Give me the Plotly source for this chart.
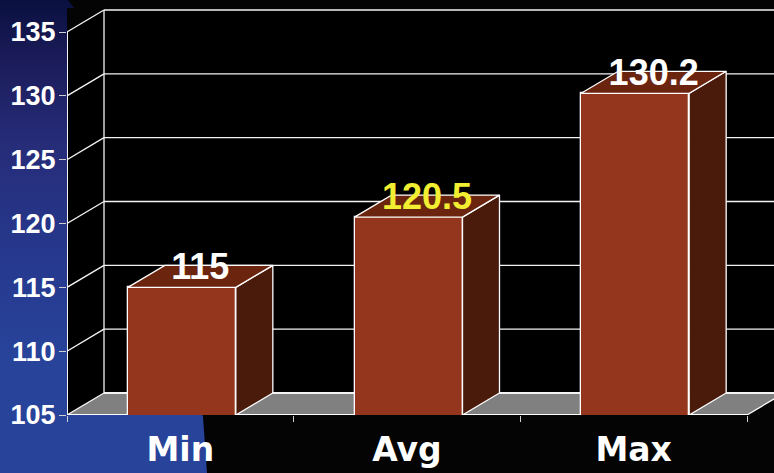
import plotly.graph_objects as go

categories = ["Min", "Avg", "Max"]
values = [115, 120.5, 130.2]
y_ticks = [105, 110, 115, 120, 125, 130, 135]
label_colors = ["#ffffff", "#f2ee32", "#ffffff"]

W, H = 774, 473
PX_X0, PX_X1 = 67, 747     # y axis and last x tick
PX_Y0, PX_Y1 = 415, 32     # value 105 and value 135
TOP_PX = 8
UX = (PX_X1 - PX_X0) / 3
UY = (PX_Y0 - PX_Y1) / (y_ticks[-1] - y_ticks[0])
DX = 37 / UX               # chart depth in axis units
DY = 22 / UY
BAR_W = 108 / UX
SHIFT = 1.5 / UX           # bars sit slightly right of the category centre
DROP = 5 / UY              # value labels sit slightly below the back edge
X_MIN, X_MAX = -0.5, -0.5 + (W - PX_X0) / UX
Y_MIN, Y_MAX = y_ticks[0], y_ticks[0] + (PX_Y0 - TOP_PX) / UY

FRONT, SIDE, TOP = "#94351d", "#4a1b0b", "#6b250f"
LINE = "#f4f4f4"
EDGE = 1.3

# Decorative backdrop outline, page pixels
bg_x = [0, 68, 86, 203, 207, 0, 0]
bg_y = [0, 0, 24, 417, 473, 473, 0]

fig = go.Figure()

fig.add_trace(go.Scatter(
    x=bg_x, y=bg_y, xaxis="x", yaxis="y", mode="lines", fill="toself",
    line=dict(width=0), hoverinfo="skip", showlegend=False,
    fillgradient=dict(type="vertical", start=0, stop=473, colorscale=[
        [0, "#0a1040"], [0.12, "#1a1b58"], [0.3, "#262c78"],
        [0.55, "#26398e"], [0.75, "#27439a"], [1, "#27439a"]]),
))

fig.add_trace(go.Bar(
    x=[i + SHIFT for i in range(len(values))], y=values, width=BAR_W, xaxis="x2", yaxis="y2",
    marker=dict(color=FRONT, line=dict(color="#ffffff", width=EDGE)),
    showlegend=False, hovertemplate="%{y}<extra></extra>",
))

for i, v in enumerate(values):
    xl, xr = i + SHIFT - BAR_W / 2, i + SHIFT + BAR_W / 2
    fig.add_trace(go.Scatter(
        x=[xr, xr + DX, xr + DX, xr, xr],
        y=[Y_MIN, Y_MIN + DY, v + DY, v, Y_MIN], xaxis="x2", yaxis="y2",
        mode="lines", fill="toself", fillcolor=SIDE, hoverinfo="skip",
        line=dict(color="#ffffff", width=EDGE), showlegend=False))
    fig.add_trace(go.Scatter(
        x=[xl, xl + DX, xr + DX, xr, xl],
        y=[v, v + DY, v + DY, v, v], xaxis="x2", yaxis="y2",
        mode="lines", fill="toself", fillcolor=TOP, hoverinfo="skip",
        line=dict(color="#ffffff", width=EDGE), showlegend=False))

fig.add_trace(go.Scatter(
    x=[i + SHIFT + DX / 2 for i in range(len(values))],
    y=[v + DY - DROP for v in values], xaxis="x2", yaxis="y2",
    mode="text", text=[str(v) for v in values], textposition="middle center",
    textfont=dict(family="Liberation Sans", size=36, color=label_colors, weight="bold"),
    hoverinfo="skip", showlegend=False, cliponaxis=False,
))

shapes = []
def below(**kw):
    shapes.append(dict(layer="below", xref="x2", yref="y2", **kw))

def poly(pts):
    return "M" + "L".join(f"{a},{b}" for a, b in pts) + "Z"

# black side wall and back wall
below(type="path", fillcolor="#000000", line=dict(width=0), path=poly([
    (X_MIN, Y_MIN), (X_MIN + DX, Y_MIN + DY), (X_MIN + DX, y_ticks[-1] + DY),
    (X_MIN, y_ticks[-1])]))
below(type="rect", fillcolor="#000000", line=dict(width=0),
      x0=X_MIN + DX, x1=X_MAX, y0=Y_MIN + DY, y1=y_ticks[-1] + DY)
# floor
below(type="path", fillcolor="#808080", line=dict(width=0), path=poly([
    (X_MIN, Y_MIN), (X_MIN + DX, Y_MIN + DY), (2.5 + DX, Y_MIN + DY), (2.5, Y_MIN)]))
# gridlines on side and back walls
for t in y_ticks:
    w = 2 if t == y_ticks[0] else EDGE
    below(type="line", x0=X_MIN, x1=X_MIN + DX, y0=t, y1=t + DY, line=dict(color=LINE, width=EDGE))
    below(type="line", x0=X_MIN + DX, x1=X_MAX, y0=t + DY, y1=t + DY, line=dict(color=LINE, width=w))
below(type="line", x0=X_MIN + DX, x1=X_MIN + DX, y0=Y_MIN + DY, y1=y_ticks[-1] + DY,
      line=dict(color=LINE, width=EDGE))
below(type="line", x0=X_MIN, x1=X_MIN, y0=Y_MIN, y1=y_ticks[-1], line=dict(color=LINE, width=2))
below(type="line", x0=X_MIN, x1=2.5, y0=Y_MIN, y1=Y_MIN, line=dict(color="#ffffff", width=2))
below(type="line", x0=2.5, x1=2.5 + DX, y0=Y_MIN, y1=Y_MIN + DY, line=dict(color="#ffffff", width=EDGE))

fig.update_layout(
    width=W, height=H, autosize=False,
    margin=dict(l=0, r=0, t=0, b=0),
    paper_bgcolor="#040404", plot_bgcolor="#040404",
    showlegend=False, shapes=shapes, bargap=0,
    xaxis=dict(domain=[0, 1], range=[0, W], visible=False, fixedrange=True, automargin=False),
    yaxis=dict(domain=[0, 1], range=[H, 0], visible=False, fixedrange=True, automargin=False),
    xaxis2=dict(
        domain=[PX_X0 / W, 1], range=[X_MIN, X_MAX], anchor="y2", automargin=False,
        showgrid=False, zeroline=False, showline=False, fixedrange=True,
        tickmode="array", tickvals=list(range(len(categories))), ticktext=categories,
        ticks="outside", ticklen=6, tickcolor="rgba(0,0,0,0)",
        ticklabelstandoff=-1,
        tickfont=dict(family="DejaVu Sans", size=33, color="#ffffff", weight="bold"),
        minor=dict(tickmode="array", tickvals=[-0.5, 0.5, 1.5, 2.5], ticks="outside",
                   ticklen=6, tickcolor="#d0d0d0", tickwidth=1, showgrid=False),
    ),
    yaxis2=dict(
        domain=[(H - PX_Y0) / H, 1 - TOP_PX / H], range=[Y_MIN, Y_MAX], anchor="x2", automargin=False,
        showgrid=False, zeroline=False, showline=False, fixedrange=True,
        tickmode="array", tickvals=y_ticks, ticktext=[str(t) for t in y_ticks],
        ticks="outside", ticklen=7, tickcolor="#d0d0d0", tickwidth=1, ticklabelstandoff=-2,
        tickfont=dict(family="Liberation Sans", size=27, color="#ffffff", weight="bold"),
    ),
)

fig.write_html("out.html", config=dict(displayModeBar=False),
               post_script="document.body.style.margin='0';document.documentElement.style.background='#040404';")
